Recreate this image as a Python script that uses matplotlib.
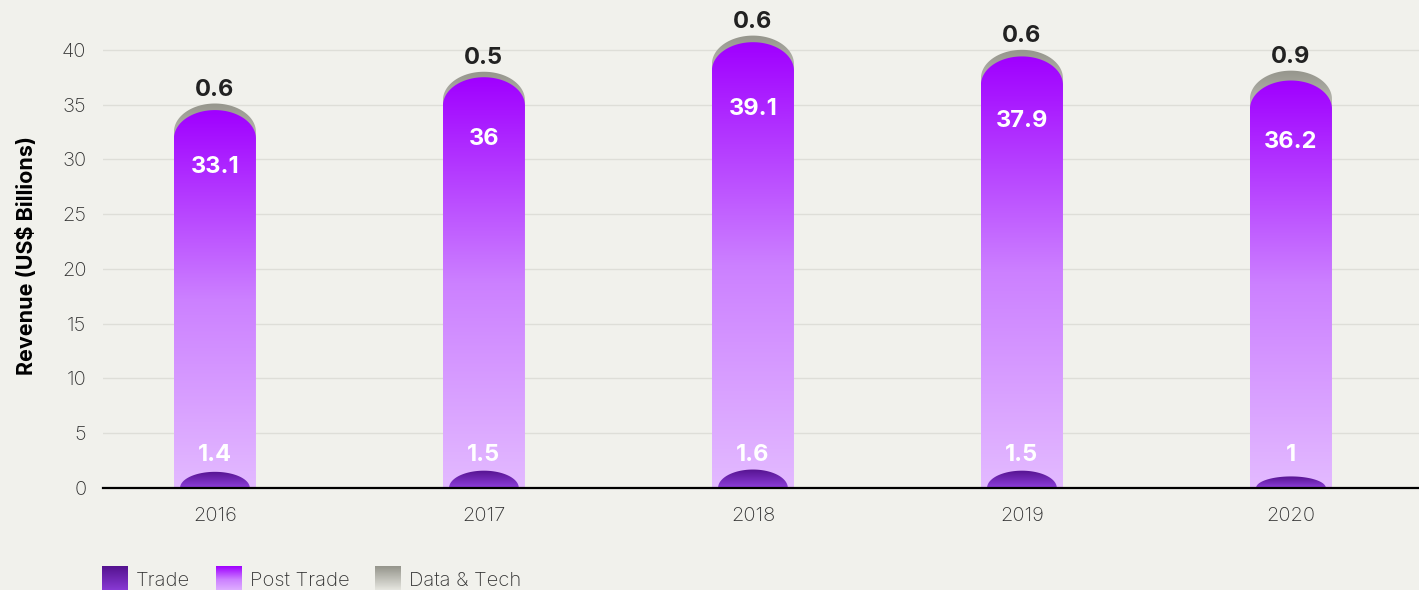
import numpy as np
import matplotlib.pyplot as plt
from matplotlib.colors import LinearSegmentedColormap
from matplotlib.path import Path
from matplotlib.patches import PathPatch

YEARS = ["2016", "2017", "2018", "2019", "2020"]
TRADE = [1.4, 1.5, 1.6, 1.5, 1.0]
POST_TRADE = [33.1, 36.0, 39.1, 37.9, 36.2]
DATA_TECH = [0.6, 0.5, 0.6, 0.6, 0.9]

BG = "#F1F1EC"
plt.rcParams["font.family"] = ["Inter", "DejaVu Sans"]

post_cmap = LinearSegmentedColormap.from_list("post", ["#E3BAFF", "#CC80FF", "#A000FF"])
trade_cmap = LinearSegmentedColormap.from_list("trade", ["#8E3EDC", "#55138F"])
gray_cmap = LinearSegmentedColormap.from_list("gray", ["#F0F0EA", "#95958C"])

WIDTH = 0.305
RY = 2.6  # vertical radius of the rounded top, data units


def rounded_bar(x, top, w=WIDTH, ry=RY):
    t = np.linspace(np.pi, 0, 60)
    xs = [x - w / 2] + list(x + w / 2 * np.cos(t)) + [x + w / 2, x - w / 2]
    ys = [0] + list(top - ry + ry * np.sin(t)) + [0, 0]
    return Path(np.column_stack([xs, ys]))


def dome(x, h, w=WIDTH * 0.85):
    t = np.linspace(np.pi, 0, 60)
    xs = list(x + w / 2 * np.cos(t)) + [x - w / 2]
    ys = list(h * np.sin(t)) + [0]
    return Path(np.column_stack([xs, ys]))


def grad_fill(ax, path, cmap, x0, x1, y0, y1, z):
    patch = PathPatch(path, facecolor="none", edgecolor="none")
    ax.add_patch(patch)
    grad = np.linspace(0, 1, 256).reshape(-1, 1)
    im = ax.imshow(grad, cmap=cmap, origin="lower", aspect="auto",
                   extent=[x0, x1, y0, y1], zorder=z, interpolation="bicubic")
    im.set_clip_path(patch)


fig = plt.figure(figsize=(14.19, 5.9), dpi=100, facecolor=BG)
ax = fig.add_axes([0.0726, 0.173, 0.9274, 0.788], facecolor=BG)

x = np.arange(len(YEARS))
for i in x:
    post_top = TRADE[i] + POST_TRADE[i]
    total = post_top + DATA_TECH[i]
    grad_fill(ax, rounded_bar(i, total), gray_cmap, i - WIDTH / 2, i + WIDTH / 2,
              total - 8, total, 2)
    grad_fill(ax, rounded_bar(i, post_top), post_cmap, i - WIDTH / 2, i + WIDTH / 2,
              0, post_top, 3)
    grad_fill(ax, dome(i, TRADE[i] * 1.05), trade_cmap, i - WIDTH / 2, i + WIDTH / 2,
              0, TRADE[i] * 1.05, 4)

    ax.text(i, post_top * 0.85, f"{POST_TRADE[i]:g}", ha="center", va="center",
            color="white", fontsize=17, fontweight="bold", zorder=5)
    ax.text(i, 3.0, f"{TRADE[i]:g}", ha="center", va="center",
            color="white", fontsize=17, fontweight="bold", zorder=5)
    ax.text(i, total + 1.25, f"{DATA_TECH[i]:g}", ha="center", va="center",
            color="#222222", fontsize=17, fontweight="bold", zorder=5, clip_on=False)

ax.set_xlim(-0.416, 4.476)
ax.set_ylim(0, 42.45)
ax.set_xticks(x)
ax.set_xticklabels(YEARS, fontsize=14.5, color="#333333", fontweight="light")
ax.set_yticks(range(0, 41, 5))
ax.set_yticklabels([str(v) for v in range(0, 41, 5)], fontsize=14.5,
                   color="#333333", fontweight="light")
ax.tick_params(axis="y", length=0, pad=12)
ax.tick_params(axis="x", length=0, pad=14)
ax.grid(axis="y", color="#DEDED8", linewidth=1)
ax.set_axisbelow(True)
for s in ["top", "right", "left"]:
    ax.spines[s].set_visible(False)
ax.spines["bottom"].set_color("black")
ax.spines["bottom"].set_linewidth(1.6)
ax.spines["bottom"].set_zorder(6)
ax.set_ylabel("Revenue (US$ Billions)", fontsize=15.5, fontweight="bold", labelpad=18)

# legend with gradient swatches
legend = [("Trade", trade_cmap, 0.072), ("Post Trade", post_cmap, 0.152), ("Data & Tech", gray_cmap, 0.264)]
grad = np.linspace(0, 1, 64).reshape(-1, 1)
for label, cmap, lx in legend:
    sw = fig.add_axes([lx, -0.005, 0.018, 0.045])
    sw.imshow(grad, cmap=cmap, origin="lower", aspect="auto")
    sw.axis("off")
    fig.text(lx + 0.024, 0.0, label, fontsize=14.5, color="#333333", va="bottom",
             fontweight="light")

fig.savefig("out.png", dpi=100, facecolor=BG)
